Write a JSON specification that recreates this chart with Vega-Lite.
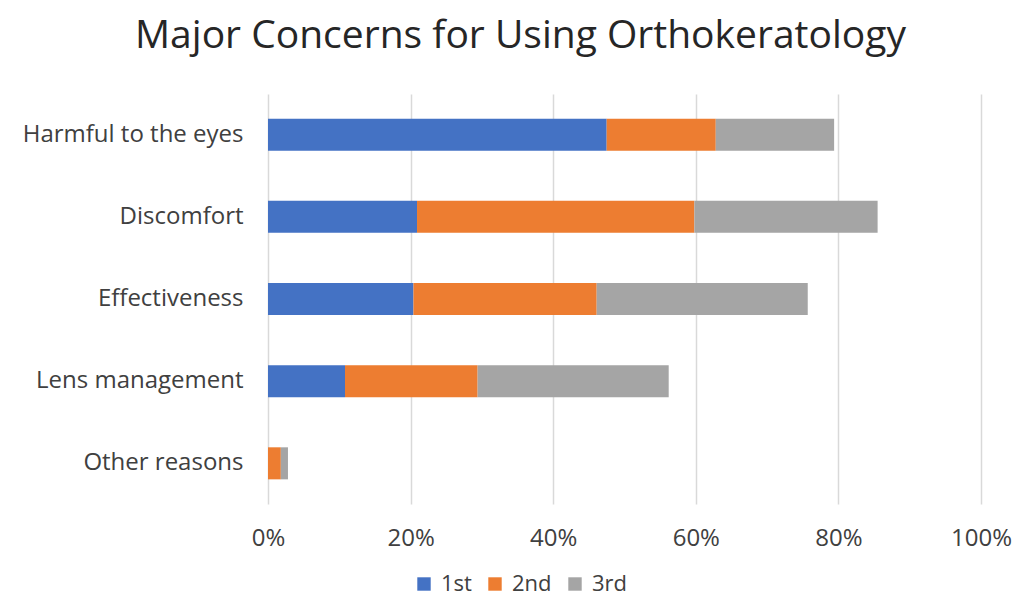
{
  "$schema": "https://vega.github.io/schema/vega-lite/v6.json",
  "width": 713,
  "height": 410,
  "autosize": {"type": "none"},
  "padding": {"left": 268, "top": 94, "right": 46, "bottom": 97},
  "background": "white",
  "config": {"view": {"stroke": null}},
  "title": {
    "text": "Major Concerns for Using Orthokeratology",
    "font": "Open Sans",
    "fontSize": 39,
    "fontWeight": "normal",
    "color": "#262626",
    "dx": -104,
    "offset": 38
  },
  "data": {
    "values": [
      {"concern": "Harmful to the eyes", "rank": "1st", "o": 1, "v": 47.5},
      {"concern": "Harmful to the eyes", "rank": "2nd", "o": 2, "v": 15.3},
      {"concern": "Harmful to the eyes", "rank": "3rd", "o": 3, "v": 16.6},
      {"concern": "Discomfort", "rank": "1st", "o": 1, "v": 20.9},
      {"concern": "Discomfort", "rank": "2nd", "o": 2, "v": 38.9},
      {"concern": "Discomfort", "rank": "3rd", "o": 3, "v": 25.7},
      {"concern": "Effectiveness", "rank": "1st", "o": 1, "v": 20.4},
      {"concern": "Effectiveness", "rank": "2nd", "o": 2, "v": 25.7},
      {"concern": "Effectiveness", "rank": "3rd", "o": 3, "v": 29.6},
      {"concern": "Lens management", "rank": "1st", "o": 1, "v": 10.8},
      {"concern": "Lens management", "rank": "2nd", "o": 2, "v": 18.6},
      {"concern": "Lens management", "rank": "3rd", "o": 3, "v": 26.8},
      {"concern": "Other reasons", "rank": "1st", "o": 1, "v": 0},
      {"concern": "Other reasons", "rank": "2nd", "o": 2, "v": 1.8},
      {"concern": "Other reasons", "rank": "3rd", "o": 3, "v": 1.0}
    ]
  },
  "mark": {"type": "bar"},
  "encoding": {
    "y": {
      "field": "concern",
      "type": "nominal",
      "sort": ["Harmful to the eyes", "Discomfort", "Effectiveness", "Lens management", "Other reasons"],
      "scale": {"paddingInner": 0.61, "paddingOuter": 0.3},
      "axis": {
        "title": null,
        "domain": false,
        "ticks": false,
        "labelFont": "Open Sans",
        "labelFontSize": 24,
        "labelLimit": 400,
        "labelColor": "#404040",
        "labelPadding": 25
      }
    },
    "x": {
      "field": "v",
      "type": "quantitative",
      "stack": "zero",
      "scale": {"domain": [0, 100], "nice": false},
      "axis": {
        "title": null,
        "values": [0, 20, 40, 60, 80, 100],
        "labelExpr": "datum.value + '%'",
        "labelFlush": false,
        "domain": false,
        "ticks": false,
        "grid": true,
        "gridColor": "#D9D9D9",
        "gridWidth": 1.5,
        "labelFont": "Open Sans",
        "labelFontSize": 24,
        "labelColor": "#404040",
        "labelPadding": 22
      }
    },
    "color": {
      "field": "rank",
      "type": "nominal",
      "scale": {"domain": ["1st", "2nd", "3rd"], "range": ["#4472C4", "#ED7D31", "#A5A5A5"]},
      "legend": {
        "title": null,
        "orient": "none",
        "direction": "horizontal",
        "legendX": 145,
        "legendY": 479,
        "symbolType": "square",
        "symbolSize": 180,
        "symbolStrokeWidth": 0,
        "labelFont": "Open Sans",
        "labelFontSize": 22,
        "labelColor": "#404040",
        "columnPadding": 12,
        "labelOffset": 6
      }
    },
    "order": {"field": "o", "type": "quantitative"}
  }
}
